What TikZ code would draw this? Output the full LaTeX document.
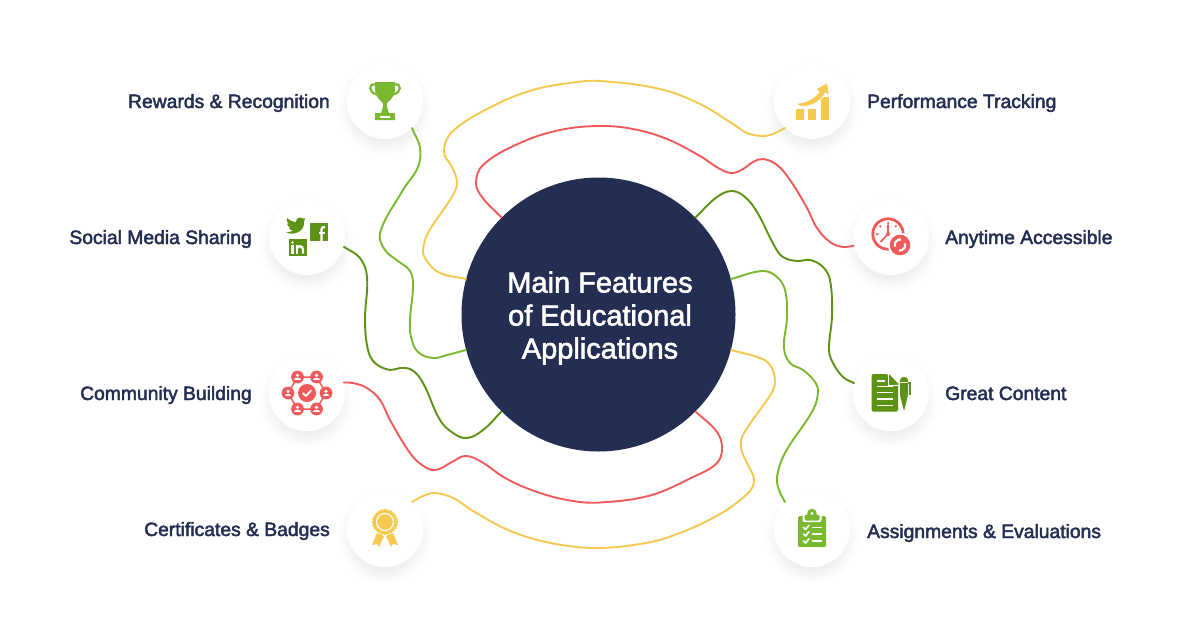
\documentclass[tikz,border=0pt]{standalone}
\usepackage{fontspec}
\setmainfont{Liberation Sans}
\newfontfamily\labelfont[FakeBold=2.4]{Liberation Sans}
\newfontfamily\titlefont[FakeBold=2.0]{Liberation Sans}
\definecolor{navy}{HTML}{242E52}
\definecolor{leaf}{HTML}{7AB92F}
\definecolor{moss}{HTML}{5C9314}
\definecolor{coral}{HTML}{F05A5B}
\definecolor{amber}{HTML}{F5C84F}
\tikzset{
  wire/.style={line width=1.9pt,line cap=round,line join=round},
  badge/.style={circle,fill=white,minimum size=76pt,inner sep=0pt},
  hubdisc/.style={circle,fill=navy,minimum size=274pt,inner sep=0pt},
  hubtext/.style={text=white,align=center,inner sep=0pt,font=\titlefont\fontsize{29}{33}\selectfont},
  leftlabel/.style={anchor=base east,inner sep=0pt,text=navy,font=\labelfont\fontsize{19.3}{22}\selectfont},
  rightlabel/.style={anchor=base west,inner sep=0pt,text=navy,font=\labelfont\fontsize{19.3}{22}\selectfont},
  softshade/.style={fill=black,fill opacity=0.0045,draw=none}
}
% Smooth curve through a list of points: the tangent at a point follows its two
% neighbours, and control arms are proportional to each segment's own length.
\newcount\wirecount
\makeatletter
\def\wireaddpoint(#1){%
  \global\advance\wirecount by 1\relax
  \coordinate (wp\the\wirecount) at (#1);%
  \pgfpointanchor{wp\the\wirecount}{center}%
  \expandafter\xdef\csname wx\the\wirecount\endcsname{\strip@pt\pgf@x}%
  \expandafter\xdef\csname wy\the\wirecount\endcsname{\strip@pt\pgf@y}}
\makeatother
\newcommand\wirecurve[2]{%
  \global\wirecount=0\relax
  \foreach \wirept in {#2}{%
    \expandafter\wireaddpoint\wirept
  }%
  \edef\wiren{\the\wirecount}%
  \foreach \wi in {1,...,\wiren}{%
    \pgfmathtruncatemacro\wia{max(\wi-1,1)}%
    \pgfmathtruncatemacro\wib{min(\wi+1,\wiren)}%
    \edef\wxa{\csname wx\wia\endcsname}\edef\wxb{\csname wx\wib\endcsname}%
    \edef\wya{\csname wy\wia\endcsname}\edef\wyb{\csname wy\wib\endcsname}%
    \pgfmathsetmacro\wdx{(\wxb)-(\wxa)}%
    \pgfmathsetmacro\wdy{(\wyb)-(\wya)}%
    \pgfmathsetmacro\wdl{max(veclen(\wdx,\wdy),0.01)}%
    \pgfmathsetmacro\wtx{(\wdx)/\wdl}%
    \pgfmathsetmacro\wty{(\wdy)/\wdl}%
    \expandafter\xdef\csname wtx\wi\endcsname{\wtx}%
    \expandafter\xdef\csname wty\wi\endcsname{\wty}%
  }%
  \pgfmathtruncatemacro\wirelast{\wiren-1}%
  \gdef\wirepath{}%
  \foreach \wi in {1,...,\wirelast}{%
    \pgfmathtruncatemacro\wj{\wi+1}%
    \edef\wxa{\csname wx\wi\endcsname}\edef\wxb{\csname wx\wj\endcsname}%
    \edef\wya{\csname wy\wi\endcsname}\edef\wyb{\csname wy\wj\endcsname}%
    \edef\wtxa{\csname wtx\wi\endcsname}\edef\wtxb{\csname wtx\wj\endcsname}%
    \edef\wtya{\csname wty\wi\endcsname}\edef\wtyb{\csname wty\wj\endcsname}%
    \pgfmathsetmacro\warm{0.36*veclen((\wxb)-(\wxa),(\wyb)-(\wya))}%
    \pgfmathsetmacro\wax{(\wxa)+\warm*(\wtxa)}%
    \pgfmathsetmacro\way{(\wya)+\warm*(\wtya)}%
    \pgfmathsetmacro\wbx{(\wxb)-\warm*(\wtxb)}%
    \pgfmathsetmacro\wby{(\wyb)-\warm*(\wtyb)}%
    \xdef\wirepath{\wirepath .. controls (\wax pt,\way pt) and (\wbx pt,\wby pt) .. (wp\wj) }%
  }%
  \edef\wirecmd{\noexpand\draw[wire,#1] (wp1) \wirepath;}%
  \wirecmd
}
\begin{document}
\begin{tikzpicture}[x=1pt,y=-1pt]
\useasboundingbox (0,0) rectangle (1200,630);
\fill[white] (0,0) rectangle (1200,630);

% soft shadow under every badge
\foreach \cx/\cy in {385/101,307/237,307/393,385/529,812/101,891/237,891/393,812/529}{
  \foreach \r in {30,31,...,47}{
    \fill[softshade] (\cx,\cy+8) circle[radius=\r];
  }
}

% central disc and badges
\node[hubdisc] (hub) at (598.5,314.5) {};
\node[hubtext] (title) at (600,318) {Main Features\\of Educational\\Applications};
\node[badge] (rewards) at (385,101) {};
\node[badge] (social) at (307,237) {};
\node[badge] (community) at (307,393) {};
\node[badge] (certs) at (385,529) {};
\node[badge] (perf) at (812,101) {};
\node[badge] (anytime) at (891,237) {};
\node[badge] (content) at (891,393) {};
\node[badge] (assign) at (812,529) {};

% labels
\node[leftlabel] (lrewards) at (330,108) {Rewards \& Recognition};
\node[leftlabel] (lsocial) at (252,244) {Social Media Sharing};
\node[leftlabel] (lcommunity) at (252,400) {Community Building};
\node[leftlabel] (lcerts) at (330,536) {Certificates \& Badges};
\node[rightlabel] (lperf) at (867,108) {Performance Tracking};
\node[rightlabel] (lanytime) at (945,244) {Anytime Accessible};
\node[rightlabel] (lcontent) at (945,400) {Great Content};
\node[rightlabel] (lassign) at (867,538) {Assignments \& Evaluations};

% connectors from the badges to the disc
\wirecurve{leaf}{(rewards.-45),(420,148),(418,167),(403,190),(380,233),(385,250),(398,261),(410,271),(413,285),(410,320),(411,337),(418,352),(433,358),(447,355),(hub.195)}
\wirecurve{amber}{(perf.225),(773,134),(762,136),(747,133),(733,124),(700,104),(660,89),(600,81),(573,82.5),(533,90),(493,106),(452,132),(444,152),(452,167),(457,182),(453,195),(428,233),(423,250),(425,258),(438,272),(hub.165)}
\wirecurve{coral}{(anytime.193),(843,247),(830,242),(817,228),(807,208),(790,180),(777,165),(763,159),(753,162),(743,169),(732,173),(720,169),(700,156),(667,139),(633,129),(600,126),(560,130),(520,143),(483,165),(476,183),(482,197),(hub.135)}
\wirecurve{moss}{(content.165),(843,377),(833,363),(829,350),(832,315),(830,280),(823,267),(810,260),(797,261),(783,257),(775,247),(757,212),(745,197),(732,191),(717,197),(hub.45)}
\wirecurve{leaf}{(assign.135),(779,490),(777,477),(785,453),(813,410),(818,392),(815,382),(803,370),(790,363),(784,348),(787,317),(785,290),(777,277),(763,271),(hub.15)}
\wirecurve{amber}{(certs.45),(423,496),(435,493),(453,498),(473,511),(507,529.5),(540,540.6),(573,546.5),(600,548),(633,545),(667,537.7),(717,515.7),(748,493),(754,480),(747,463),(741,448),(743,435),(772,392),(775,380),(770,365),(760,358),(hub.-15)}
\wirecurve{coral}{(community.16),(353,383),(367,388),(380,400),(390,420),(410,453),(422,465),(435,470),(452,462),(465,456),(480,461),(507,479),(540,493),(573,501),(600,502.5),(650,495.5),(693,477),(717,463),(722,448),(717,432),(hub.-45)}
\wirecurve{moss}{(social.-15),(360,258),(367,277),(365,320),(368,350),(375,363),(390,370),(400,368),(412,370),(423,383),(440,420),(453,433),(467,438),(483,430),(hub.225)}

% trophy
\fill[leaf] (375,82) -- (395,82) -- (395,90) .. controls (395,97) and (389,101) .. (387,103) -- (387,107) -- (389,113) -- (395,113) -- (395,120) -- (375,120) -- (375,113) -- (381,113) -- (383,107) -- (383,103) .. controls (381,101) and (375,97) .. (375,90) -- cycle;
\fill[white] (380,116) rectangle (390,118);
\draw[leaf,line width=2.2pt] (375,84.5) .. controls (368,83) and (369,93) .. (376,94);
\draw[leaf,line width=2.2pt] (395,84.5) .. controls (402,83) and (401,93) .. (394,94);

% twitter, facebook and linkedin marks
\fill[moss] (305,218.5) .. controls (303.5,219) and (302.5,218) .. (300,217.5) .. controls (297.5,217.5) and (295.5,219.5) .. (296,222) .. controls (292,222) and (289,220) .. (287,218) .. controls (286,220) and (287,222.5) .. (289,224) -- (287,223.5) .. controls (287,225.5) and (288.5,227) .. (291,227.5) -- (288.5,227.7) .. controls (289.5,229.5) and (291,230) .. (293,230.5) .. controls (291,232) and (288.5,232.5) .. (286,232.5) .. controls (295,236) and (305,231) .. (304,221.5) -- cycle;
\fill[moss] (310,223) rectangle (328,241);
\draw[white,line width=2.4pt] (321.5,241) -- (321.5,229.5) .. controls (321.5,227.5) and (323,227) .. (325,227);
\draw[white,line width=2pt] (318.5,232.5) -- (325,232.5);
\fill[moss] (289,238.5) rectangle (307,256);
\fill[white] (292.5,242.5) circle[radius=1.4];
\draw[white,line width=2.5pt] (292.5,245) -- (292.5,253.5);
\draw[white,line width=2.3pt] (296.7,253.5) -- (296.7,245);
\draw[white,line width=2.3pt] (296.7,249) .. controls (297,245.5) and (303,245) .. (303,249.5) -- (303,253.5);

% community network
\draw[coral,line width=1.5pt] (297.5,377) -- (316.5,377) -- (326,393) -- (316.5,409) -- (297.5,409) -- (288,393) -- cycle;
\fill[coral] (307,393) circle[radius=9];
\draw[white,line width=1.9pt,line cap=round,line join=round] (303,393.3) -- (306,396) -- (311,390.5);
\foreach \px/\py in {297.5/377,316.5/377,326/393,316.5/409,297.5/409,288/393}{
  \fill[coral] (\px,\py) circle[radius=6.4];
  \fill[white] (\px,\py-1.7) circle[radius=1.8];
  \fill[white] (\px-3.2,\py+3.4) .. controls (\px-3.2,\py-0.3) and (\px+3.2,\py-0.3) .. (\px+3.2,\py+3.4) -- cycle;
}

% medal
\fill[amber] (377,533) -- (384,536) -- (379,547) -- (377,544) -- (372,545) -- cycle;
\fill[amber] (393,533) -- (386,536) -- (391,547) -- (393,544) -- (398,545) -- cycle;
\fill[amber] plot[samples=97,domain=0:360] ({385+(12.6+0.6*cos(24*\x))*cos(\x)},{522+(12.6+0.6*cos(24*\x))*sin(\x)}) -- cycle;
\draw[white,line width=1.1pt] (385,522) circle[radius=8.5];

% rising chart
\fill[amber] (796,109) rectangle (804,120);
\fill[amber] (808,109) rectangle (816,120);
\fill[amber] (821,97) rectangle (829,120);
\fill[amber,draw=white,line width=0.9pt] (794,103.5) .. controls (803,103.5) and (813,100) .. (819,92) -- (816,89) -- (827.5,82.5) -- (829.5,96) -- (825.5,93) .. controls (821,101) and (811,108) .. (800,106) -- cycle;

% clock with refresh mark
\draw[coral,line width=2.8pt] (888,234) circle[radius=15.2];
\draw[coral,line width=1.5pt] (888,222) -- (888,224.5) (876,234) -- (878.5,234) (879.5,225.5) -- (881,227) (896.5,225.5) -- (895,227);
\draw[coral,line width=1.7pt] (888,234) -- (888,225) (888,234) -- (880.5,242);
\fill[coral] (888,234) circle[radius=2];
\fill[white] (900,245) circle[radius=12.3];
\fill[coral] (900,245) circle[radius=10.3];
\draw[white,line width=2.2pt] (894.9,246.7) arc[start angle=160,end angle=280,radius=5.4];
\draw[white,line width=2.2pt] (905.1,243.3) arc[start angle=-20,end angle=100,radius=5.4];

% document and pen
\fill[moss,rounded corners=2pt] (871.5,374) -- (888,374) -- (898,384.5) -- (898,411.5) -- (871.5,411.5) -- cycle;
\fill[white] (888,374) -- (889.5,372) -- (900,384) -- (898,385.5) -- cycle;
\fill[moss] (889,374) -- (889,384.5) -- (899,384.5) -- cycle;
\draw[white,line width=1pt] (888.5,373) -- (888.5,385) -- (899,385);
\draw[white,line width=1.2pt] (877,381) -- (885,381) (877,386.5) -- (893,386.5) (877,392.5) -- (893,392.5) (877,399) -- (893,399) (877,405.5) -- (893,405.5);
\fill[moss] (900,380) .. controls (900,376) and (908,376) .. (908,380) -- (908,395) -- (904,411) -- (900,395) -- cycle;
\draw[moss,line width=1.2pt] (908,383) -- (910,383) -- (910,395);
\draw[white,line width=0.8pt] (900,382.5) -- (908,382.5);

% clipboard
\fill[leaf,rounded corners=1.5pt] (798,516) rectangle (826,547);
\fill[white,rounded corners=2pt] (802.5,512) rectangle (821.5,522);
\fill[leaf,rounded corners=1.5pt] (804.5,514.5) rectangle (819.5,520.5);
\fill[leaf] (812,513.5) circle[radius=4.8];
\fill[white] (812,513.5) circle[radius=1.6];
\foreach \ly in {527.5,534,541}{
  \draw[white,line width=1.7pt,line cap=round,line join=round] (803.5,\ly) -- (805.5,\ly+2) -- (809,\ly-2.2);
  \draw[white,line width=1.7pt] (812,\ly) -- (821.5,\ly);
}
\end{tikzpicture}
\end{document}
